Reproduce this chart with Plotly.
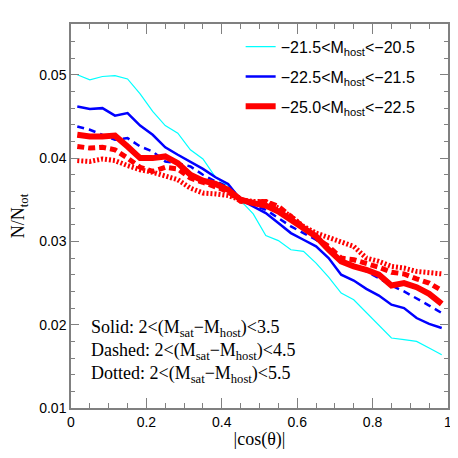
import plotly.graph_objects as go
import numpy as np

# bin centres in |cos(theta)|, 30 bins
cos_bins = (np.arange(30) + 0.5) / 30.0

# -21.5 < M_host < -20.5, solid
cyan_solid = [0.0500, 0.0494, 0.0498, 0.0499, 0.0495, 0.0477, 0.0456, 0.0439, 0.0430, 0.0410,
              0.0399, 0.0377, 0.0367, 0.0349, 0.0333, 0.0307, 0.0301, 0.0290, 0.0288, 0.0274,
              0.0257, 0.0238, 0.0230, 0.0215, 0.0199, 0.0184, 0.0182, 0.0180, 0.0172, 0.0164]

# -22.5 < M_host < -21.5
blue_solid = [0.0462, 0.0459, 0.0460, 0.0451, 0.0454, 0.0439, 0.0428, 0.0413, 0.0404, 0.0396,
              0.0387, 0.0377, 0.0369, 0.0350, 0.0342, 0.0334, 0.0322, 0.0310, 0.0302, 0.0294,
              0.0280, 0.0260, 0.0253, 0.0243, 0.0235, 0.0224, 0.0220, 0.0208, 0.0201, 0.0196]
blue_dashed = [0.0438, 0.0434, 0.0428, 0.0422, 0.0424, 0.0414, 0.0408, 0.0396, 0.0394, 0.0390,
               0.0380, 0.0372, 0.0366, 0.0352, 0.0344, 0.0338, 0.0328, 0.0318, 0.0310, 0.0302,
               0.0292, 0.0276, 0.0270, 0.0264, 0.0256, 0.0247, 0.0240, 0.0232, 0.0223, 0.0214]

# -25.0 < M_host < -22.5
red_solid = [0.0428, 0.0426, 0.0426, 0.0427, 0.0414, 0.0400, 0.0400, 0.0402, 0.0394, 0.0380,
             0.0373, 0.0369, 0.0362, 0.0350, 0.0346, 0.0343, 0.0336, 0.0326, 0.0316, 0.0306,
             0.0290, 0.0276, 0.0270, 0.0266, 0.0260, 0.0247, 0.0250, 0.0245, 0.0237, 0.0225]
red_dashed = [0.0414, 0.0412, 0.0413, 0.0410, 0.0400, 0.0389, 0.0384, 0.0389, 0.0387, 0.0376,
              0.0371, 0.0366, 0.0360, 0.0348, 0.0347, 0.0348, 0.0342, 0.0330, 0.0316, 0.0304,
              0.0294, 0.0280, 0.0278, 0.0274, 0.0269, 0.0263, 0.0261, 0.0255, 0.0250, 0.0241]
red_dotted = [0.0397, 0.0396, 0.0399, 0.0397, 0.0391, 0.0386, 0.0383, 0.0379, 0.0374, 0.0364,
              0.0358, 0.0357, 0.0355, 0.0350, 0.0348, 0.0348, 0.0340, 0.0330, 0.0318, 0.0310,
              0.0305, 0.0300, 0.0294, 0.0280, 0.0276, 0.0270, 0.0268, 0.0264, 0.0262, 0.0261]

legend_names = ['−21.5<M<sub>host</sub><−20.5',
                '−22.5<M<sub>host</sub><−21.5',
                '−25.0<M<sub>host</sub><−22.5']
x_ticks = [0, 0.2, 0.4, 0.6, 0.8, 1.0]
x_ticktext = ['0', '0.2', '0.4', '0.6', '0.8', '1']

serif = 'Liberation Serif'
sans = 'Liberation Sans'

fig = go.Figure()
# (values, colour, width, dash, legend name, legend rank)
series = [
    (red_dotted, 'red', 5, '2px,2px', None, 3),
    (red_dashed, 'red', 5, '7px,4px', None, 3),
    (blue_dashed, 'blue', 2.5, '7px,5px', None, 2),
    (cyan_solid, 'cyan', 1.2, 'solid', legend_names[0], 1),
    (blue_solid, 'blue', 2.5, 'solid', legend_names[1], 2),
    (red_solid, 'red', 6, 'solid', legend_names[2], 3),
]
for vals, col, w, dash, name, rank in series:
    fig.add_trace(go.Scatter(
        x=cos_bins, y=vals, mode='lines',
        line=dict(color=col, width=w, dash=dash),
        name=name if name else '',
        showlegend=name is not None,
        legendgroup=col, legendrank=rank,
    ))

# page body has an 8px margin, so the figure is a bit smaller than the window
fig.update_layout(
    width=450, height=450,
    margin=dict(l=63, r=10, t=16, b=50),
    plot_bgcolor='white', paper_bgcolor='white',
    font=dict(family=sans, size=14, color='black'),
    legend=dict(x=0.45, y=0.985, xanchor='left', yanchor='top',
                bgcolor='rgba(0,0,0,0)', itemwidth=30, tracegroupgap=6,
                font=dict(family=sans, size=16),
                traceorder='grouped'),
)

axis_common = dict(showline=True, linecolor='#808080', linewidth=1.5, mirror='ticks',
                   ticks='inside', tickcolor='#808080', showgrid=False, zeroline=False,
                   automargin=False)
fig.update_xaxes(range=[0, 1], tickmode='array', tickvals=x_ticks, ticktext=x_ticktext, ticklen=10,
                 minor=dict(dtick=0.05, tick0=0, ticklen=5, ticks='inside', tickcolor='#808080'),
                 title=dict(text='|cos(θ)|', font=dict(family=serif, size=18), standoff=4),
                 **axis_common)
fig.update_yaxes(range=[0.01, 0.0561], tickmode='linear', tick0=0.01, dtick=0.01, ticklen=8,
                 tickformat='.2f',
                 minor=dict(dtick=0.002, tick0=0.01, ticklen=4, ticks='inside', tickcolor='#808080'),
                 title=dict(text='N/N<sub>tot</sub>', font=dict(family=serif, size=18), standoff=19),
                 **axis_common)

notes = ['Solid: 2<(M<sub>sat</sub>−M<sub>host</sub>)<3.5',
         'Dashed: 2<(M<sub>sat</sub>−M<sub>host</sub>)<4.5',
         'Dotted: 2<(M<sub>sat</sub>−M<sub>host</sub>)<5.5']
for k, t in enumerate(notes):
    fig.add_annotation(text=t, xref='paper', yref='paper', x=0.047, y=0.208 - k * 0.061,
                       xanchor='left', yanchor='middle', showarrow=False,
                       font=dict(family=serif, size=18, color='black'))

fig.write_html("out.html")
